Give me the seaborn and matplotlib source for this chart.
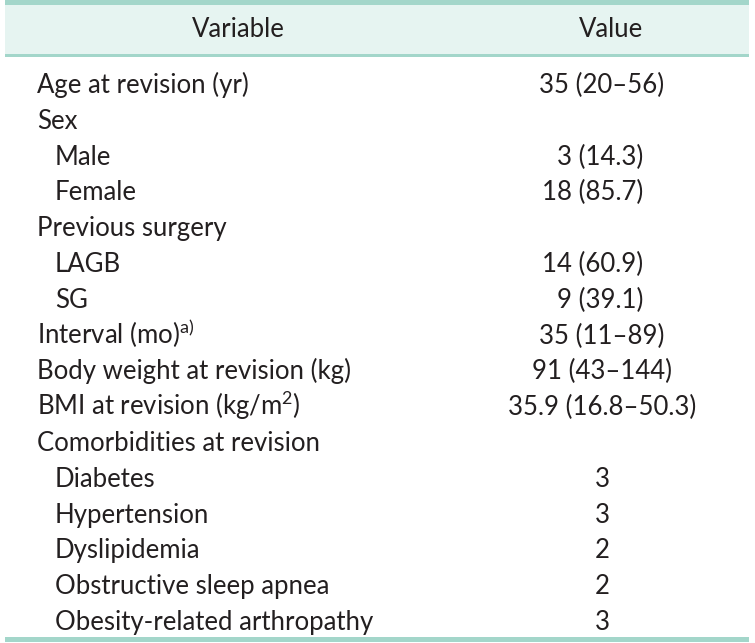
import seaborn as sns
import matplotlib.pyplot as plt

# table content
header = ["Variable", "Value"]
labels = ["Age at revision (yr)", "Sex", "Male", "Female", "Previous surgery",
          "LAGB", "SG", "Interval (mo)$^{\\mathregular{a)}}$", "Body weight at revision (kg)",
          "BMI at revision (kg/m$^{\\mathregular{2}}$)", "Comorbidities at revision",
          "Diabetes", "Hypertension", "Dyslipidemia", "Obstructive sleep apnea",
          "Obesity-related arthropathy"]
indent = [0, 0, 1, 1, 0, 1, 1, 0, 0, 0, 0, 1, 1, 1, 1, 1]
values = ["35 (20–56)", "", "3 (14.3)", "18 (85.7)", "", "14 (60.9)", "9 (39.1)",
          "35 (11–89)", "91 (43–144)", "35.9 (16.8–50.3)", "", "3", "3", "2", "2", "3"]

sns.set_theme(style="white")
plt.rcParams['font.family'] = ['Lato', 'DejaVu Sans']
plt.rcParams['mathtext.fontset'] = 'custom'
plt.rcParams['mathtext.rm'] = 'Lato'

W, H = 755, 643
fig = plt.figure(figsize=(W / 100, H / 100), dpi=100)
ax = fig.add_axes([0, 0, 1, 1])
ax.set_xlim(0, W)
ax.set_ylim(H, 0)
ax.axis("off")

rule = "#a3d6ca"
band = "#e6f4f1"
txt = "#231f20"
fs = 18.5

# header band and rules
x0, x1 = 5, 749
ax.fill_between([x0, x1], 4, 55, color=band, lw=0)
ax.fill_between([x0, x1], 0, 5, color=rule, lw=0)
ax.fill_between([x0, x1], 54, 57, color=rule, lw=0)
ax.fill_between([x0, x1], 637, 642, color=rule, lw=0)

ax.text(238, 37, header[0], ha="center", va="baseline", fontsize=fs, color=txt)
ax.text(611, 37, header[1], ha="center", va="baseline", fontsize=fs, color=txt)

y0, dy = 93, 35.8
for i, (lab, lev, val) in enumerate(zip(labels, indent, values)):
    y = y0 + i * dy
    ax.text(37 + 18 * lev, y, lab, ha="left", va="baseline", fontsize=fs, color=txt)
    if not val:
        continue
    if "(" in val and "–" not in val:
        # n (%) rows are right aligned in the source table
        ax.text(643, y, val, ha="right", va="baseline", fontsize=fs, color=txt)
    else:
        ax.text(602, y, val, ha="center", va="baseline", fontsize=fs, color=txt)

fig.savefig("out.png", dpi=100)
